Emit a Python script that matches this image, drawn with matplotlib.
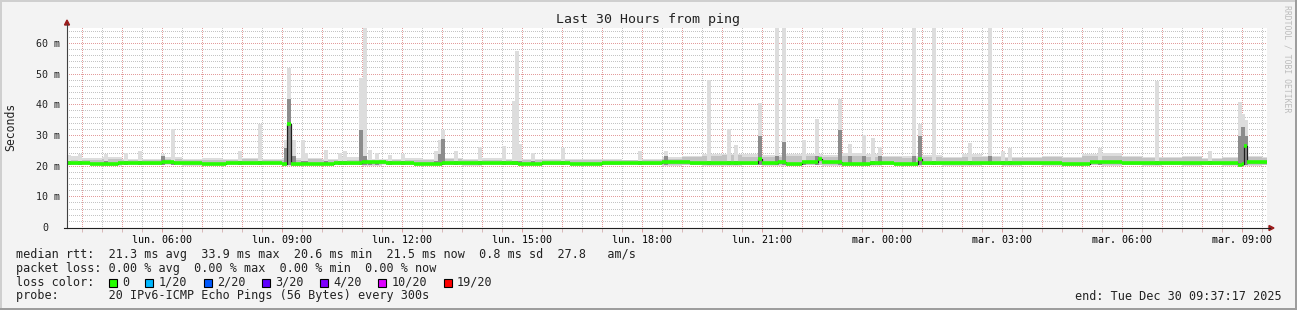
import numpy as np
import matplotlib
matplotlib.use("Agg")
import matplotlib.pyplot as plt
from matplotlib.patches import Rectangle, Polygon
from matplotlib.lines import Line2D
from matplotlib.transforms import ScaledTranslation
from matplotlib.colors import to_rgba

W, H = 1297, 310
MONO = "DejaVu Sans Mono"

# time axis in hours since Monday 00:00 (graph covers 30 h ending Tue 09:37:17)
t_start = 3.6214
t_end = 33.6214
tick_hours = [6, 9, 12, 15, 18, 21, 24, 27, 30, 33]
tick_labels = ["lun. 06:00", "lun. 09:00", "lun. 12:00", "lun. 15:00", "lun. 18:00",
               "lun. 21:00", "mar. 00:00", "mar. 03:00", "mar. 06:00", "mar. 09:00"]
y_ticks = [0, 10, 20, 30, 40, 50, 60]
y_labels = ["0", "10 m", "20 m", "30 m", "40 m", "50 m", "60 m"]

# background smoke, half-hour bins starting 03:30 (ms)
base_hours = np.arange(3.5, 34.0, 0.5)
base_lo = [20.4, 20.5, 20.3, 20.5, 20.4, 20.5, 20.3, 20.4, 20.5, 20.4, 20.5, 20.3,
           20.4, 20.5, 20.4, 20.3, 20.5, 20.4, 20.5, 20.4, 20.3, 20.5, 20.4, 20.5,
           20.4, 20.5, 20.5, 20.4, 20.5, 20.4, 20.3, 20.4, 20.3, 20.2, 20.4, 20.3,
           20.2, 20.4, 20.3, 20.2, 20.3, 20.4, 20.3, 20.4, 20.2, 20.3, 20.4, 20.3,
           20.4, 20.3, 20.2, 20.4, 20.3, 20.4, 20.3, 20.4, 20.3, 20.4, 20.2, 20.3, 20.4]
base_mid = [22.0, 21.9, 22.1, 21.9, 22.0, 22.2, 21.9, 22.0, 21.9, 22.1, 21.9, 22.0,
            22.1, 21.9, 22.0, 21.9, 21.9, 22.0, 21.9, 22.1, 21.9, 22.0, 21.9, 21.9,
            22.0, 21.9, 21.9, 22.0, 21.9, 22.0, 22.3, 22.8, 23.2, 23.4, 23.0, 22.9,
            23.3, 23.1, 22.8, 23.2, 23.0, 22.7, 22.6, 22.9, 22.5, 23.0, 22.8, 22.5,
            22.4, 22.8, 22.6, 23.1, 23.3, 22.8, 22.4, 22.6, 22.8, 22.3, 22.5, 22.9, 22.4]
base_hi = [23.5, 22.8, 23.0, 22.5, 22.6, 23.0, 22.4, 22.8, 22.5, 22.7, 22.6, 22.9,
           22.8, 22.5, 23.0, 22.6, 22.4, 22.7, 22.6, 22.9, 22.5, 22.7, 22.5, 22.4,
           22.6, 22.5, 22.4, 22.5, 22.3, 22.6, 23.0, 23.5, 24.0, 24.2, 24.0, 23.8,
           24.2, 24.0, 23.8, 24.5, 24.0, 23.5, 23.5, 23.8, 23.2, 24.0, 23.6, 23.2,
           23.0, 23.5, 23.2, 24.0, 24.3, 23.5, 23.0, 23.2, 23.5, 22.8, 23.0, 23.5, 23.0]

# single 5-minute samples with outliers (ms)
spike_hour = [3.67, 3.95, 4.60, 5.10, 5.45, 6.02, 6.27, 7.95, 8.45,
              9.10, 9.17, 9.30, 9.52, 9.60,
              10.10, 10.45, 10.57, 10.97, 11.07, 11.20, 11.37, 11.70,
              12.02, 12.85, 12.95, 13.02, 13.35, 13.95,
              14.55, 14.80, 14.87, 14.95, 15.27, 16.02,
              17.95, 18.60, 19.67, 20.17, 20.35, 20.95,
              21.37, 21.55, 22.05, 22.37, 22.95, 23.20,
              23.55, 23.77, 23.95, 24.80, 24.95, 25.30,
              26.20, 26.70, 27.02, 27.20, 29.45, 30.87,
              32.20, 32.95, 33.02, 33.10]
spike_top = [23.8, 24.1, 24.0, 24.6, 25.2, 24.0, 32.3, 25.0, 33.9,
             28.7, 52.0, 28.7, 28.7, 24.3,
             25.4, 24.3, 25.0, 49.0, 65.5, 25.4, 24.6, 23.8,
             24.0, 25.0, 28.7, 32.0, 25.0, 26.5,
             26.8, 41.4, 57.7, 27.4, 24.6, 26.2,
             25.0, 25.0, 48.3, 32.3, 27.0, 40.9,
             65.5, 65.5, 28.7, 35.5, 42.0, 27.5,
             30.3, 29.5, 26.5, 65.5, 33.9, 65.5,
             27.7, 65.5, 25.0, 26.0, 26.0, 48.0,
             25.0, 41.0, 37.2, 35.2]
spike_core = [22.0, 22.0, 22.0, 22.0, 22.0, 23.5, 22.0, 22.0, 22.0,
              26.0, 42.0, 23.5, 22.0, 22.0,
              22.0, 22.0, 22.0, 32.0, 23.5, 22.0, 22.0, 22.0,
              22.0, 22.0, 24.0, 29.0, 22.0, 22.0,
              22.0, 22.0, 22.0, 22.0, 22.0, 22.0,
              22.0, 23.5, 22.0, 22.0, 22.0, 30.0,
              23.5, 28.0, 22.0, 23.5, 32.0, 23.5,
              23.5, 22.0, 23.5, 23.5, 30.0, 22.0,
              22.0, 23.5, 22.0, 22.0, 22.0, 22.0,
              22.0, 30.0, 33.0, 30.0]

# median rtt, step changes (ms)
med_t = [3.62, 4.2, 4.9, 5.6, 6.0, 6.3, 7.0, 7.6, 8.3, 9.0, 9.125, 9.21, 9.6, 10.3,
         11.0, 11.6, 12.3, 13.0, 13.6, 14.3, 14.9, 15.5, 16.2, 17.0, 17.7, 18.5,
         19.2, 20.0, 20.9, 21.0, 21.4, 21.6, 22.0, 22.4, 22.5, 23.0, 23.7, 24.3,
         24.9, 25.0, 25.6, 26.3, 27.0, 27.8, 28.5, 29.2, 30.0, 30.7, 31.5, 32.3,
         32.9, 33.0, 33.04, 33.12, 33.62]
med_v = [21.2, 21.0, 21.3, 21.1, 21.4, 21.1, 21.0, 21.3, 21.2, 21.0, 33.9, 20.8, 21.0, 21.2,
         21.4, 21.1, 21.0, 21.3, 21.1, 21.2, 20.9, 21.2, 21.0, 21.1, 21.3, 21.6,
         21.3, 21.1, 22.4, 21.2, 21.5, 21.0, 21.4, 22.6, 21.4, 21.0, 21.2, 21.0,
         22.6, 21.2, 21.1, 21.3, 21.1, 21.3, 21.0, 21.4, 21.2, 21.1, 21.3, 21.2,
         20.5, 21.0, 26.7, 21.4, 21.4]

legend_rtt = "median rtt:  21.3 ms avg  33.9 ms max  20.6 ms min  21.5 ms now  0.8 ms sd  27.8   am/s"
legend_loss = "packet loss: 0.00 % avg  0.00 % max  0.00 % min  0.00 % now"
loss_labels = ["0", "1/20", "2/20", "3/20", "4/20", "10/20", "19/20"]
loss_colors = ["#26ff00", "#00b8ff", "#0059ff", "#5e00ff", "#7e00ff", "#dd00ff", "#ff0000"]
legend_probe = "probe:       20 IPv6-ICMP Echo Pings (56 Bytes) every 300s"
end_text = "end: Tue Dec 30 09:37:17 2025"

step_h = 5 / 60.0

fig = plt.figure(figsize=(W / 100, H / 100), dpi=100, facecolor="#f3f3f3")


def fx(x):
    return x / W


def fy(y):
    return 1 - y / H


AX_L, AX_T, AX_W, AX_H = 67, 28, 1200, 200
ax = fig.add_axes([fx(AX_L), fy(AX_T + AX_H), AX_W / W, AX_H / H])
ax.set_facecolor("white")
for s in ax.spines.values():
    s.set_visible(False)

# dotted grid rendered pixel by pixel (1 px on / 1 px off)
grid_img = np.zeros((AX_H, AX_W, 4))
minor_c = to_rgba("#c4c4c4")
major_c = to_rgba("#e39c9c")


def vgrid(h, c):
    col = int(round((h - t_start) / (t_end - t_start) * AX_W))
    if 0 <= col < AX_W:
        grid_img[0::2, col] = c


def hgrid(v, c):
    row = AX_H - 1 - int(round(v / 65.2 * AX_H))
    if 0 <= row < AX_H:
        grid_img[row, 0::2] = c


for v in np.arange(2, 66, 2):
    if v % 10 != 0:
        hgrid(v, minor_c)
for h in np.arange(4.0, 34.0, 0.5):
    if h % 1 != 0:
        vgrid(h, minor_c)
for v in y_ticks[1:]:
    hgrid(v, major_c)
for h in np.arange(4.0, 34.0, 1.0):
    vgrid(h, major_c)
ax.imshow(grid_img, extent=(t_start, t_end, 0, 65.2), aspect="auto",
          interpolation="nearest", zorder=0)
ax.set_xlim(t_start, t_end)
ax.set_ylim(0, 65.2)

# smoke
ax.bar(base_hours, np.array(base_hi) - np.array(base_lo), bottom=base_lo, width=0.5,
       align="edge", color="#dddddd", linewidth=0, zorder=2)
ax.bar(base_hours, np.array(base_mid) - np.array(base_lo), bottom=np.array(base_lo) + 0.3,
       width=0.5, align="edge", color="#c2c2c2", linewidth=0, zorder=2)
ax.bar(spike_hour, np.array(spike_top) - 20.6, bottom=20.6, width=step_h,
       color="#dddddd", linewidth=0, zorder=3)
ax.bar(spike_hour, np.array(spike_core) - 20.6, bottom=20.6, width=step_h,
       color="#8c8c8c", linewidth=0, zorder=3)

# median: dark step line, loss colour on the flat parts only
ax.step(med_t, med_v, where="post", color="#202020", linewidth=0.9, zorder=4)
ax.hlines(med_v[:-1], med_t[:-1], med_t[1:], color="#26ff00", linewidth=2.6, zorder=5)

# ticks
ax.set_xticks(tick_hours, tick_labels)
ax.set_xticks(np.arange(4.0, 34.0, 0.5), minor=True)
ax.tick_params(axis="x", which="major", length=3, width=0.72, color="#e0a0a0", pad=2,
               labelsize=7.2, labelfontfamily=MONO)
ax.tick_params(axis="x", which="minor", length=3, width=0.72, color="#d8b8b8")
ax.set_yticks([])
for v, lab in zip(y_ticks, y_labels):
    off = -7 / 100 if lab != "0" else -19 / 100
    ax.text(0, v, lab, transform=ax.get_yaxis_transform() + ScaledTranslation(off, 0, fig.dpi_scale_trans),
            ha="right", va="center", fontsize=7.2, family=MONO, color="#222222")

# axes lines and arrows
fig.add_artist(Line2D([fx(67), fx(67)], [fy(228), fy(24)], color="#404040", linewidth=0.8))
fig.add_artist(Line2D([fx(64), fx(1270)], [fy(228), fy(228)], color="#202020", linewidth=0.8))
fig.add_artist(Polygon([[fx(64.5), fy(25)], [fx(69.5), fy(25)], [fx(67), fy(20)]],
                       closed=True, color="#9b1c1c", transform=fig.transFigure))
fig.add_artist(Polygon([[fx(1269), fy(225.5)], [fx(1269), fy(230.5)], [fx(1274), fy(228)]],
                       closed=True, color="#9b1c1c", transform=fig.transFigure))

# texts
fig.text(fx(648), fy(23.5), "Last 30 Hours from ping", ha="center", va="baseline",
         fontsize=9.5, family=MONO, color="#222222")
fig.text(fx(10.5), fy(127), "Seconds", ha="center", va="center", rotation=90,
         fontsize=8.3, family=MONO, color="#222222")
fig.text(fx(1287.5), fy(5), "RRDTOOL / TOBI OETIKER", ha="center", va="top", rotation=270,
         fontsize=5.9, family=MONO, color="#bcbcbc")

lg = dict(fontsize=8.5, family=MONO, color="#222222", va="baseline")
fig.text(fx(16), fy(257.7), legend_rtt, ha="left", **lg)
fig.text(fx(16), fy(271.7), legend_loss, ha="left", **lg)
fig.text(fx(16), fy(285.7), "loss color:", ha="left", **lg)
fig.text(fx(16), fy(299.5), legend_probe, ha="left", **lg)
fig.text(fx(1282), fy(299.5), end_text, ha="right", **lg)

char_w = 8.5 * 100 / 72 * 0.602
x = 108.5
for lab, col in zip(loss_labels, loss_colors):
    fig.add_artist(Rectangle((fx(x), fy(286.7)), 8 / W, 8 / H, transform=fig.transFigure,
                             facecolor=col, edgecolor="black", linewidth=0.8))
    x += 13.3
    fig.text(fx(x), fy(285.7), lab, ha="left", **lg)
    x += len(lab) * char_w + 16.5

# frame
fig.add_artist(Rectangle((0, 1 - 2 / H), 1, 2 / H, transform=fig.transFigure, color="#cfcfcf", linewidth=0))
fig.add_artist(Rectangle((0, 0), 2 / W, 1, transform=fig.transFigure, color="#cfcfcf", linewidth=0))
fig.add_artist(Rectangle((0, 0), 1, 2 / H, transform=fig.transFigure, color="#9d9d9d", linewidth=0))
fig.add_artist(Rectangle((1 - 2 / W, 0), 2 / W, 1, transform=fig.transFigure, color="#9d9d9d", linewidth=0))

fig.savefig("out.png", dpi=100, facecolor=fig.get_facecolor())
